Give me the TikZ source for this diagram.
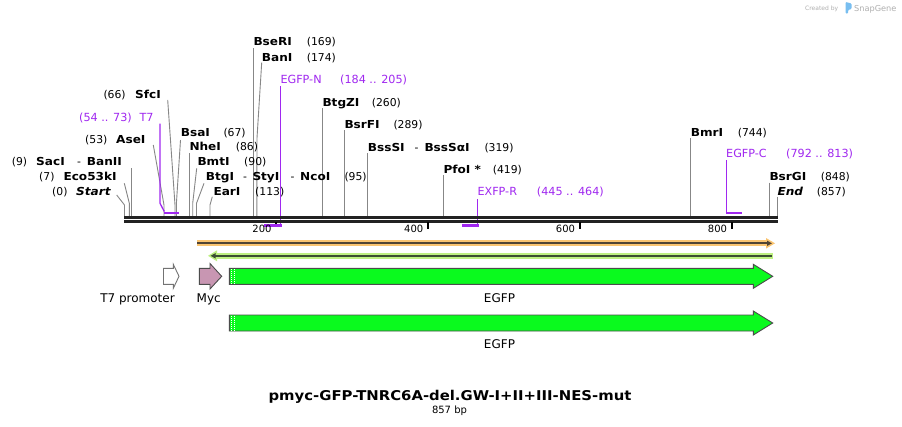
\documentclass[tikz,border=0pt]{standalone}
\usepackage{fontspec}
\setmainfont{DejaVu Sans}
\newfontfamily\namefont[FakeStretch=1.1]{DejaVu Sans}
\usetikzlibrary{arrows.meta}
\definecolor{prim}{RGB}{160,40,240}
\definecolor{lead}{RGB}{135,135,135}
\definecolor{barc}{RGB}{34,34,34}
\definecolor{gfp}{RGB}{10,250,30}
\definecolor{myc}{RGB}{200,150,178}
\definecolor{orhalo}{RGB}{250,196,112}
\definecolor{ordark}{RGB}{80,68,52}
\definecolor{grhalo}{RGB}{190,240,130}
\definecolor{grdark}{RGB}{60,78,50}
\definecolor{wm}{RGB}{175,175,175}
\definecolor{wmblue}{RGB}{120,190,240}
\tikzset{
  nm/.style={font=\namefont\bfseries\fontsize{11}{13}\selectfont, anchor=base west, inner sep=0pt},
  nmit/.style={font=\namefont\bfseries\itshape\fontsize{11}{13}\selectfont, anchor=base west, inner sep=0pt},
  num/.style={font=\fontsize{10.8}{13}\selectfont, anchor=base west, inner sep=0pt},
  prm/.style={font=\fontsize{11.2}{13}\selectfont, text=prim, anchor=base west, inner sep=0pt},
  tick/.style={font=\fontsize{10}{12}\selectfont, anchor=base east, inner sep=0pt},
  flab/.style={font=\fontsize{12}{14}\selectfont, anchor=base, inner sep=0pt},
  leader/.style={draw=lead, line width=0.9pt},
  primline/.style={draw=prim, line width=1.3pt},
  primbind/.style={draw=prim, line width=2.4pt},
  feat/.style={draw=black!70, line width=0.9pt, line join=miter}
}
\begin{document}
\begin{tikzpicture}[x=1pt,y=-1pt]
\useasboundingbox (0,0) rectangle (902,426);
\fill[white] (0,0) rectangle (902,426);

% watermark
\node[font=\fontsize{6}{7}\selectfont, text=wm, anchor=base west, inner sep=0pt] (wm1) at (805,10.5) {Created by};
\fill[wmblue, rounded corners=1pt] (845.5,2) -- (851.5,3.5) -- (851.5,9) -- (848,10) -- (848,13.5) -- (845.5,13.5) -- cycle;
\node[font=\fontsize{8.2}{9}\selectfont, text=wm, anchor=base west, inner sep=0pt] (wm2) at (854,11) {SnapGene};

% site coordinates on the bar
\foreach \n/\x in {s0/124.5, s7/129.3, s9/131.5, s53/164, s66/175, s67/176.3, s86/189.3, s90/192.7, s95/196.5, s113/210, s169/253.3, s174/256.8, s260/322.3, s289/344.3, s319/367.3, s419/443.3, s744/690.7, s848/769.3, s857/777.3}
  \coordinate (\n) at (\x,216);

% leaders
\draw[leader] (116.7,195) -- (124.5,205) -- (s0);
\draw[leader] (124.3,183.3) -- (129.3,203.3) -- (s7);
\draw[leader] (131.5,168.3) -- (s9);
\draw[leader] (153.3,145) -- (164,205) -- (s53);
\draw[leader] (167.7,100) -- (175,205) -- (s66);
\draw[leader] (180.5,140) -- (176.3,205) -- (s67);
\draw[leader] (189.3,153) -- (s86);
\draw[leader] (196.7,168.3) -- (192.7,203.3) -- (s90);
\draw[leader] (204,183.3) -- (196.5,203.3) -- (s95);
\draw[leader] (212.3,196.7) -- (210,205) -- (s113);
\draw[leader] (253.3,48) -- (s169);
\draw[leader] (261.7,62.7) -- (257,138) -- (s174);
\draw[leader] (322.3,108) -- (s260);
\draw[leader] (344.3,130) -- (s289);
\draw[leader] (367.3,153) -- (s319);
\draw[leader] (443.3,175) -- (s419);
\draw[leader] (690.7,138.3) -- (s744);
\draw[leader] (769.3,182.7) -- (s848);
\draw[leader] (777.3,196.7) -- (s857);

% enzyme labels
\node[num] (n0) at (52,195.7) {(0)};
\node[nmit] (start) at (76,195.7) {Start};
\node[num] (n7) at (39,180.7) {(7)};
\node[nm] (eco) at (63.3,180.7) {Eco53kI};
\node[num] (n9) at (11.7,165.7) {(9)};
\node[nm] (saci) at (36,165.7) {SacI};
\node[num] (d9) at (77,165.7) {-};
\node[nm] (banii) at (86.7,165.7) {BanII};
\node[num] (n53) at (85,143.3) {(53)};
\node[nm] (asei) at (116,143.3) {AseI};
\node[num] (n66) at (103.3,98) {(66)};
\node[nm] (sfci) at (135,98) {SfcI};
\node[nm] (bsai) at (180.7,136.3) {BsaI};
\node[num] (n67) at (223.3,136.3) {(67)};
\node[nm] (nhei) at (189.3,150.7) {NheI};
\node[num] (n86) at (235.7,150.7) {(86)};
\node[nm] (bmti) at (197.3,165.7) {BmtI};
\node[num] (n90) at (244,165.7) {(90)};
\node[nm] (btgi) at (205.7,180.7) {BtgI};
\node[num] (d95a) at (243,180.7) {-};
\node[nm] (styi) at (252.3,180.7) {StyI};
\node[num] (d95b) at (290.3,180.7) {-};
\node[nm] (ncoi) at (300,180.7) {NcoI};
\node[num] (n95) at (344.3,180.7) {(95)};
\node[nm] (eari) at (213.3,195.7) {EarI};
\node[num] (n113) at (255,195.7) {(113)};
\node[nm] (bseri) at (253.3,45.7) {BseRI};
\node[num] (n169) at (306.7,45.7) {(169)};
\node[nm] (bani) at (261.7,61.3) {BanI};
\node[num] (n174) at (306.7,61.3) {(174)};
\node[nm] (btgzi) at (322.3,106.3) {BtgZI};
\node[num] (n260) at (371.7,106.3) {(260)};
\node[nm] (bsrfi) at (344.3,128.3) {BsrFI};
\node[num] (n289) at (393.3,128.3) {(289)};
\node[nm] (bsssi) at (367.7,151) {BssSI};
\node[num] (d319) at (414.5,151) {-};
\node[nm] (bsssai) at (424.3,151) {BssSαI};
\node[num] (n319) at (484.3,151) {(319)};
\node[nm] (pfoi) at (443.3,173) {PfoI *};
\node[num] (n419) at (492.7,173) {(419)};
\node[nm] (bmri) at (690.7,136.3) {BmrI};
\node[num] (n744) at (737.7,136.3) {(744)};
\node[nm] (bsrgi) at (769.3,180.7) {BsrGI};
\node[num] (n848) at (820.7,180.7) {(848)};
\node[nmit] (endl) at (777.3,195.7) {End};
\node[num] (n857) at (816.7,195.7) {(857)};

% primers
\node[prm] (t7r) at (79,121.3) {(54 .. 73)};
\node[prm] (t7p) at (139.3,121.3) {T7};
\node[prm] (egfpn) at (280.3,83) {EGFP-N};
\node[prm] (egfpnr) at (340,83) {(184 .. 205)};
\node[prm] (exfpr) at (477.3,195.7) {EXFP-R};
\node[prm] (exfprr) at (536.7,195.7) {(445 .. 464)};
\node[prm] (egfpc) at (726,157.3) {EGFP-C};
\node[prm] (egfpcr) at (786,157.3) {(792 .. 813)};

\draw[primline] (160,123.5) -- (160,203.3) -- (164.3,211.5);
\draw[primbind] (163.5,212.7) -- (179.3,212.7);
\draw[primline] (280.5,86) -- (280.5,225.5);
\draw[primbind] (264,225.5) -- (281.5,225.5);
\draw[primline] (477.5,199) -- (477.5,225.3);
\draw[primbind] (462.3,225.3) -- (478.5,225.3);
\draw[primline] (726.7,160) -- (726.7,212.7);
\draw[primbind] (725.7,212.7) -- (741.7,212.7);

% sequence bar
\draw[barc, line width=2.7pt] (124,217.4) -- (778,217.4);
\draw[barc, line width=2.7pt] (124,221.4) -- (778,221.4);

% ruler ticks
\draw[black, line width=1.2pt] (276,222) -- (276,224);
\node[tick] (t200) at (271.7,232.8) {200};
\foreach \x/\l in {428.3/400, 580/600, 732/800}{
  \draw[black, line width=2pt] (\x,222) -- (\x,229);
  \node[tick] at (\x-4.8,232.8) {\l};
}

% orange ORF line
\draw[orhalo, line width=6pt] (197,243.3) -- (768,243.3);
\fill[orhalo] (766,238) -- (775,243.3) -- (766,248.6) -- cycle;
\draw[ordark, line width=1.8pt, -{Triangle[length=5pt,width=5pt]}] (197,243.3) -- (772,243.3);

% green ORF line
\fill[grhalo] (214,252.6) rectangle (773.3,259);
\fill[grhalo] (208,255.8) -- (217,250.3) -- (217,261.3) -- cycle;
\draw[grdark, line width=1.8pt, {Triangle[length=5pt,width=5pt]}-] (210.5,255.8) -- (771.5,255.8);

% T7 promoter
\draw[feat, fill=white, draw=black!55] (163.5,268.3) -- (173.3,268.3) -- (173.3,264.3) -- (179,276.3) -- (173.3,288.3) -- (173.3,284.3) -- (163.5,284.3) -- cycle;
\node[flab] (t7prom) at (137.5,302) {T7 promoter};
% Myc
\draw[feat, fill=myc] (199.3,268.3) -- (210,268.3) -- (210,263.5) -- (221.7,276.3) -- (210,289) -- (210,284.3) -- (199.3,284.3) -- cycle;
\node[flab] (myclab) at (208.7,302) {Myc};
% EGFP 1
\draw[feat, fill=gfp] (229.3,268.3) -- (753.3,268.3) -- (753.3,264.3) -- (772.7,276.3) -- (753.3,288.3) -- (753.3,284.3) -- (229.3,284.3) -- cycle;
\draw[white, line width=0.8pt, dash pattern=on 1pt off 1pt] (231.8,269) -- (231.8,284);
\draw[white, line width=0.8pt, dash pattern=on 1pt off 1pt] (234.8,269) -- (234.8,284);
\node[flab] (egfp1) at (499.5,302) {EGFP};
% EGFP 2
\draw[feat, fill=gfp] (229.3,315) -- (753.3,315) -- (753.3,311) -- (772.7,323) -- (753.3,335) -- (753.3,331) -- (229.3,331) -- cycle;
\draw[white, line width=0.8pt, dash pattern=on 1pt off 1pt] (231.8,315.7) -- (231.8,330.5);
\draw[white, line width=0.8pt, dash pattern=on 1pt off 1pt] (234.8,315.7) -- (234.8,330.5);
\node[flab] (egfp2) at (499.5,348.7) {EGFP};

% title
\node[font=\namefont\bfseries\fontsize{13.5}{16}\selectfont, anchor=base, inner sep=0pt] (title) at (450,400) {pmyc-GFP-TNRC6A-del.GW-I+II+III-NES-mut};
\node[font=\fontsize{10}{12}\selectfont, anchor=base, inner sep=0pt] (bp) at (449.5,413.5) {857 bp};
\end{tikzpicture}
\end{document}
